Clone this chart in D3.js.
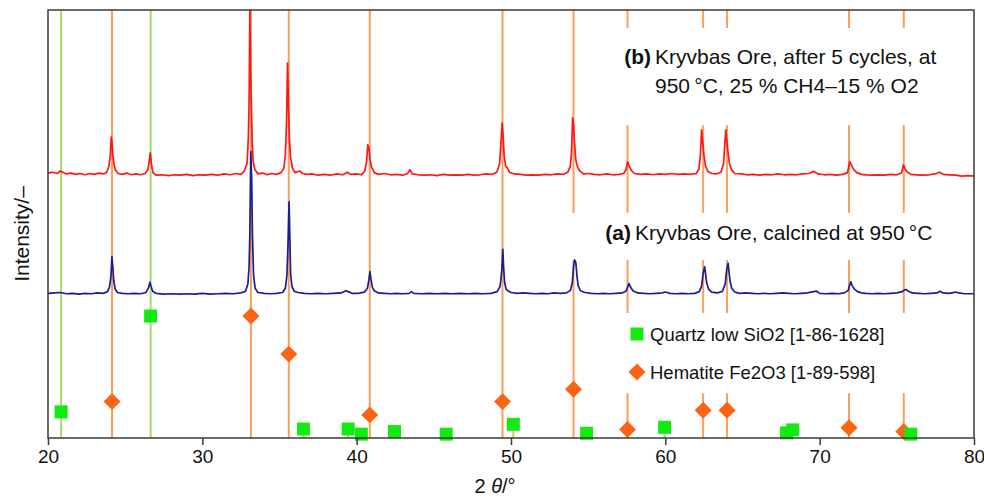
<!DOCTYPE html>
<html>
<head>
<meta charset="utf-8">
<script src="https://cdn.jsdelivr.net/npm/d3@7/dist/d3.min.js"></script>
<style>
  html, body { margin: 0; padding: 0; background: #fff; }
  svg { display: block; font-family: "Liberation Sans", Arial, Helvetica, sans-serif; }
</style>
</head>
<body>
<svg id="chart"></svg>
<script>
// XRD patterns: [2theta, intensity (a.u.)]
const patternB = [
  [20.0,619],[20.3,621],[20.6,618],[20.8,624],[20.95,621],[21.2,617],[21.5,619],[21.8,616],[22.1,618],[22.4,615],
  [22.7,618],[23.0,616],[23.3,619],[23.6,617],[23.8,621],[23.95,635],[24.04,662],[24.1,703],[24.15,690],[24.2,662],
  [24.27,640],[24.37,626],[24.55,618],[24.8,616],[25.1,619],[25.4,615],[25.7,617],[26.0,615],[26.3,618],[26.48,628],
  [26.57,650],[26.63,666],[26.7,640],[26.8,620],[27.0,614],[27.4,615],[27.8,613],[28.2,615],[28.6,614],[29.0,616],
  [29.4,613],[29.8,615],[30.2,614],[30.6,616],[31.0,614],[31.4,617],[31.8,615],[32.2,618],[32.5,616],[32.72,624],
  [32.9,642],[32.98,700],[33.03,780],[33.08,1000],[33.13,850],[33.18,780],[33.23,690],[33.3,645],[33.4,628],[33.6,617],
  [33.9,619],[34.2,615],[34.5,618],[34.8,616],[35.1,620],[35.28,630],[35.38,660],[35.46,740],[35.52,876],[35.58,780],
  [35.64,700],[35.72,655],[35.83,632],[36.0,620],[36.3,624],[36.5,618],[36.8,616],[37.1,617],[37.5,614],[37.9,616],
  [38.3,614],[38.7,617],[39.1,615],[39.4,621],[39.6,616],[40.0,617],[40.3,615],[40.52,623],[40.64,645],[40.72,685],
  [40.79,678],[40.87,650],[40.97,632],[41.15,620],[41.4,616],[41.8,618],[42.2,615],[42.6,616],[43.0,614],[43.3,618],
  [43.45,627],[43.6,617],[44.0,615],[44.4,614],[44.8,615],[45.2,613],[45.6,616],[46.0,614],[46.4,615],[46.8,614],
  [47.2,616],[47.6,614],[48.0,615],[48.4,617],[48.8,616],[49.08,621],[49.26,640],[49.35,690],[49.43,736],[49.49,705],
  [49.56,658],[49.65,635],[49.75,632],[49.9,621],[50.2,617],[50.6,616],[51.0,614],[51.4,615],[51.8,614],[52.2,616],
  [52.6,615],[53.0,617],[53.4,616],[53.68,621],[53.84,634],[53.92,665],[53.99,748],[54.05,735],[54.11,695],[54.19,652],
  [54.3,634],[54.45,624],[54.7,617],[55.0,618],[55.4,616],[55.8,615],[56.2,617],[56.6,615],[57.0,616],[57.3,618],
  [57.45,627],[57.55,645],[57.65,636],[57.8,625],[58.0,618],[58.4,616],[58.8,617],[59.2,615],[59.6,617],[60.0,616],
  [60.4,618],[60.8,616],[61.2,617],[61.6,616],[62.0,618],[62.18,628],[62.28,665],[62.35,720],[62.42,692],[62.5,662],
  [62.6,636],[62.75,623],[63.0,618],[63.3,617],[63.6,621],[63.77,640],[63.86,690],[63.92,720],[63.99,692],[64.06,668],
  [64.15,642],[64.3,626],[64.5,618],[64.9,617],[65.3,615],[65.7,616],[66.1,614],[66.5,616],[66.9,615],[67.3,617],
  [67.7,615],[68.1,616],[68.5,615],[68.9,617],[69.3,618],[69.6,623],[69.9,617],[70.3,615],[70.7,616],[71.1,614],
  [71.5,616],[71.8,620],[71.95,646],[72.05,638],[72.2,628],[72.4,620],[72.7,616],[73.0,615],[73.4,614],[73.8,615],
  [74.2,614],[74.6,616],[75.0,615],[75.3,619],[75.43,638],[75.52,630],[75.65,622],[75.9,616],[76.3,615],[76.7,614],
  [77.1,615],[77.5,617],[77.75,621],[78.0,616],[78.4,615],[78.8,614],[79.2,612],[79.6,613],[80.0,612]
];

const patternA = [
  [20.0,338],[20.4,339],[20.8,340],[21.2,337],[21.6,338],[22.0,336],[22.4,338],[22.8,337],[23.2,339],[23.6,338],
  [23.85,342],[23.98,352],[24.08,378],[24.14,424],[24.2,400],[24.26,368],[24.35,348],[24.5,340],[24.8,338],[25.2,337],
  [25.6,338],[26.0,337],[26.35,340],[26.52,352],[26.6,364],[26.67,355],[26.78,343],[27.0,338],[27.5,336],[28.0,337],
  [28.5,336],[29.0,337],[29.5,336],[30.0,338],[30.5,336],[31.0,337],[31.5,338],[32.0,337],[32.5,339],[32.8,343],
  [32.95,360],[33.03,400],[33.08,480],[33.14,669],[33.2,600],[33.25,470],[33.32,380],[33.42,350],[33.6,340],[34.0,338],
  [34.4,337],[34.8,338],[35.2,340],[35.38,350],[35.48,380],[35.55,450],[35.62,552],[35.67,470],[35.72,385],[35.8,355],
  [35.95,343],[36.2,340],[36.6,338],[37.0,337],[37.5,338],[38.0,337],[38.5,338],[39.0,339],[39.3,344],[39.45,342],
  [39.7,338],[40.1,338],[40.5,341],[40.7,350],[40.8,372],[40.86,389],[40.93,370],[41.02,352],[41.15,344],[41.4,339],
  [41.8,338],[42.2,337],[42.6,338],[43.0,337],[43.4,338],[43.55,342],[43.7,338],[44.2,337],[44.7,338],[45.2,337],
  [45.7,338],[46.2,337],[46.7,338],[47.2,337],[47.7,338],[48.2,337],[48.7,338],[49.1,342],[49.3,355],[49.4,390],
  [49.47,441],[49.52,400],[49.58,365],[49.68,348],[49.8,344],[50.0,340],[50.4,338],[50.8,339],[51.2,338],[51.6,337],
  [52.0,338],[52.4,337],[52.8,339],[53.2,338],[53.6,339],[53.85,345],[53.97,362],[54.05,400],[54.12,416],[54.2,410],
  [54.27,380],[54.35,356],[54.5,344],[54.8,340],[55.2,338],[55.6,337],[56.0,338],[56.4,337],[56.8,338],[57.2,339],
  [57.45,343],[57.58,355],[57.65,361],[57.75,352],[57.9,344],[58.2,339],[58.6,338],[59.0,337],[59.4,338],[59.8,339],
  [60.0,341],[60.3,338],[60.7,337],[61.1,338],[61.5,337],[61.9,338],[62.2,342],[62.35,355],[62.45,385],[62.55,400],
  [62.6,385],[62.68,362],[62.8,348],[63.0,341],[63.4,339],[63.7,343],[63.88,360],[63.98,395],[64.07,408],[64.12,390],
  [64.2,365],[64.3,350],[64.5,341],[64.8,338],[65.2,339],[65.6,338],[66.0,337],[66.4,338],[66.8,337],[67.2,338],
  [67.6,339],[68.0,338],[68.4,337],[68.8,338],[69.2,339],[69.6,342],[69.8,343],[70.0,338],[70.4,337],[70.8,338],
  [71.2,337],[71.6,339],[71.85,345],[71.95,358],[72.02,365],[72.1,356],[72.25,348],[72.45,342],[72.7,339],[73.0,338],
  [73.4,337],[73.8,338],[74.2,337],[74.6,338],[75.0,339],[75.35,342],[75.5,346],[75.6,347],[75.75,343],[76.0,339],
  [76.4,338],[76.8,337],[77.2,338],[77.6,339],[77.8,343],[78.0,339],[78.4,338],[78.8,341],[79.0,339],[79.4,337],
  [80.0,337]
];

// Reference cards: [2theta, relative marker height]
const quartzPeaks = [
  [20.85,61],[26.65,285],[36.55,21],[39.45,21],[40.3,9],[42.45,15],[45.8,9],[50.15,32],
  [54.9,11],[59.95,25],[67.85,12],[68.25,19],[75.9,9]
];
const quartzFull = [20.85, 26.65];

const hematitePeaks = [
  [24.15,85],[33.15,285],[35.6,196],[40.85,54],[49.45,85],[54.05,114],
  [57.55,20],[62.45,65],[64.0,65],[71.9,24],[75.45,15]
];
// gaps left in the stick lines behind the labels, in intensity units
const gapsText = [[105,292],[416,526],[731,958]];
const gapsA = [[416,526]];
const hematiteGaps = { 54.05: gapsA, 57.55: gapsText, 62.45: gapsText, 64.0: gapsText, 71.9: gapsText, 75.45: gapsText };

const xTicks = [20, 30, 40, 50, 60, 70, 80];

const colors = {
  b: '#ff1717',
  a: '#1d1d8f',
  hemLine: '#f6a05c',
  qLine: '#a6da6a',
  quartz: '#12ea12',
  hematite: '#fb6412',
  frame: '#3a3a3a'
};

const width = 984, height = 500;
const margin = { top: 10, right: 10, bottom: 62, left: 48 };
const innerW = width - margin.left - margin.right;
const innerH = height - margin.top - margin.bottom;

const svg = d3.select('#chart').attr('width', width).attr('height', height);
const g = svg.append('g').attr('transform', `translate(${margin.left},${margin.top})`);

const x = d3.scaleLinear().domain([20, 80]).range([0, innerW]);
const y = d3.scaleLinear().domain([0, 1000]).range([innerH, 0]);

g.append('defs').append('clipPath').attr('id', 'plot-clip')
  .append('rect').attr('width', innerW).attr('height', innerH);

// stick lines
const sticks = g.append('g').attr('class', 'sticks');

function segments(gaps) {
  const out = [];
  let lo = 0;
  (gaps || []).forEach(([a, b]) => { out.push([lo, a]); lo = b; });
  out.push([lo, 1000]);
  return out;
}

hematitePeaks.forEach(([pos]) => {
  segments(hematiteGaps[pos]).forEach(([a, b]) => {
    sticks.append('line')
      .attr('x1', x(pos)).attr('x2', x(pos))
      .attr('y1', y(a)).attr('y2', y(b))
      .attr('stroke', colors.hemLine)
      .attr('stroke-width', 2);
  });
});

quartzPeaks.forEach(([pos, h]) => {
  const top = quartzFull.includes(pos) ? 1000 : h;
  sticks.append('line')
    .attr('x1', x(pos)).attr('x2', x(pos))
    .attr('y1', y(0)).attr('y2', y(top))
    .attr('stroke', colors.qLine)
    .attr('stroke-width', 2);
});

// patterns
const line = d3.line().x(d => x(d[0])).y(d => y(d[1]));
const curves = g.append('g').attr('clip-path', 'url(#plot-clip)');
curves.append('path').datum(patternB)
  .attr('d', line).attr('fill', 'none')
  .attr('stroke', colors.b).attr('stroke-width', 1.7).attr('stroke-linejoin', 'round');
curves.append('path').datum(patternA)
  .attr('d', line).attr('fill', 'none')
  .attr('stroke', colors.a).attr('stroke-width', 1.7).attr('stroke-linejoin', 'round');

// markers
const sq = d3.symbol().type(d3.symbolSquare).size(169);
const dia = d3.symbol().type(d3.symbolSquare).size(144);

g.append('g').selectAll('path.hem')
  .data(hematitePeaks).join('path')
  .attr('class', 'hem')
  .attr('d', dia)
  .attr('transform', d => `translate(${x(d[0])},${y(d[1])}) rotate(45)`)
  .attr('fill', colors.hematite);

g.append('g').selectAll('path.qtz')
  .data(quartzPeaks).join('path')
  .attr('class', 'qtz')
  .attr('d', sq)
  .attr('transform', d => `translate(${x(d[0])},${y(d[1])})`)
  .attr('fill', colors.quartz);

// frame
g.append('rect')
  .attr('width', innerW).attr('height', innerH)
  .attr('fill', 'none').attr('stroke', colors.frame).attr('stroke-width', 1.5);

// x axis
const xAxis = d3.axisBottom(x).tickValues(xTicks).tickSize(7).tickPadding(5);
const ax = g.append('g').attr('transform', `translate(0,${innerH})`).call(xAxis);
ax.select('.domain').remove();
ax.selectAll('line').attr('stroke', colors.frame).attr('stroke-width', 1.5);
ax.selectAll('text').attr('font-size', 19).attr('fill', '#111')
  .attr('font-family', '"Liberation Sans", Arial, sans-serif');

// axis titles
const xt = svg.append('text')
  .attr('x', 495).attr('y', 493)
  .attr('text-anchor', 'middle').attr('font-size', 20).attr('fill', '#111');
xt.append('tspan').text('2 ');
xt.append('tspan').attr('font-style', 'italic').text('θ');
xt.append('tspan').text('/°');

svg.append('text')
  .attr('transform', 'translate(29,234) rotate(-90)')
  .attr('text-anchor', 'middle').attr('font-size', 21).attr('fill', '#111')
  .text('Intensity/–');

// annotations
const ann = svg.append('g').attr('font-size', 21).attr('fill', '#111');
ann.append('text').attr('x', 651).attr('y', 64).attr('text-anchor', 'end')
  .attr('font-weight', 'bold').text('(b)');
ann.append('text').attr('x', 655).attr('y', 64).text('Kryvbas Ore, after 5 cycles, at');
ann.append('text').attr('x', 655).attr('y', 93).text('950\u2009°C, 25 % CH4–15 % O2');
ann.append('text').attr('x', 631).attr('y', 240).attr('text-anchor', 'end')
  .attr('font-weight', 'bold').text('(a)');
ann.append('text').attr('x', 635).attr('y', 240).text('Kryvbas Ore, calcined at 950\u2009°C');

// legend
const legend = svg.append('g').attr('font-size', 18.5).attr('fill', '#111');
legend.append('path').attr('d', sq).attr('transform', 'translate(637,334)').attr('fill', colors.quartz);
legend.append('text').attr('x', 650).attr('y', 341).text('Quartz low SiO2 [1-86-1628]');
legend.append('path').attr('d', dia).attr('transform', 'translate(637,372) rotate(45)').attr('fill', colors.hematite);
legend.append('text').attr('x', 650).attr('y', 379).text('Hematite Fe2O3 [1-89-598]');
</script>
</body>
</html>
